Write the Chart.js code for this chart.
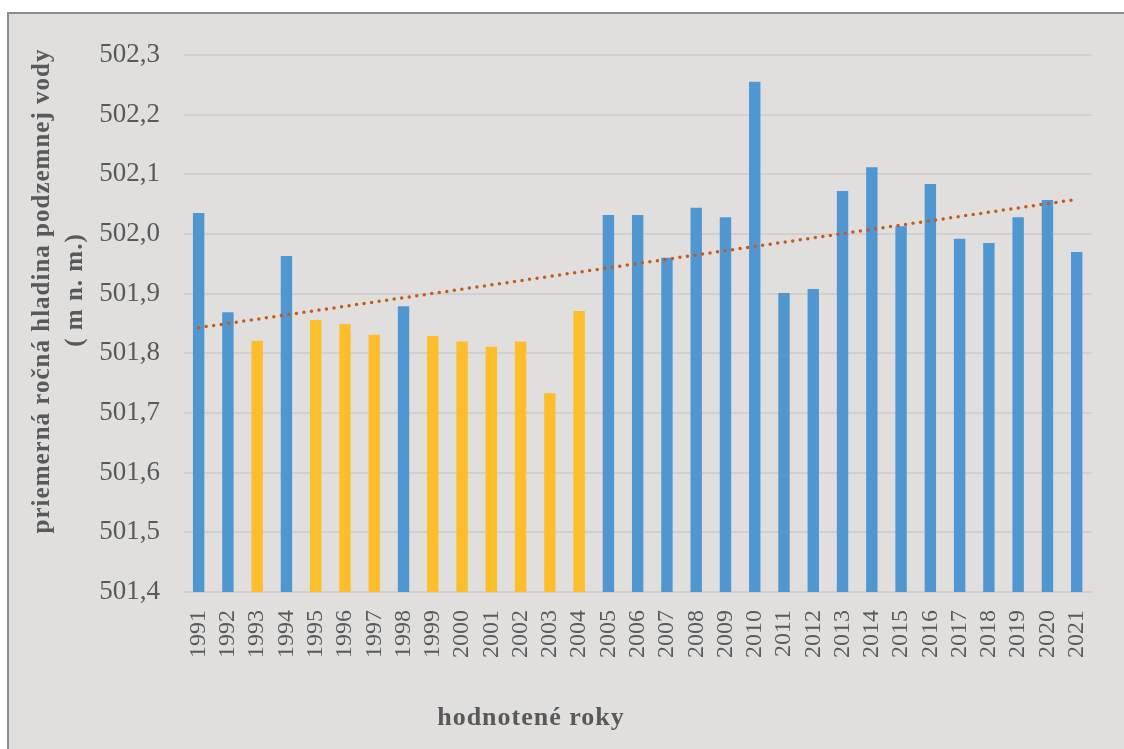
<!DOCTYPE html>
<html lang="sk">
<head>
<meta charset="utf-8">
<title>Priemerná ročná hladina podzemnej vody</title>
<script src="https://cdn.jsdelivr.net/npm/chart.js@4.4.1/dist/chart.umd.min.js"></script>
<style>
  html, body { margin: 0; padding: 0; background: #ffffff; overflow: hidden; }
  #ramec {
    position: absolute; left: 7px; top: 12px; width: 1130px; height: 760px;
    background: #e0dfde; border-top: 2px solid #8c8c8c; border-left: 2px solid #8c8c8c;
  }
  #graf { position: absolute; left: 0; top: 0; }
</style>
</head>
<body>
<div id="ramec"></div>
<canvas id="graf" width="1124" height="749"></canvas>
<script>
const roky = ['1991', '1992', '1993', '1994', '1995', '1996', '1997', '1998', '1999', '2000',
  '2001', '2002', '2003', '2004', '2005', '2006', '2007', '2008', '2009', '2010',
  '2011', '2012', '2013', '2014', '2015', '2016', '2017', '2018', '2019', '2020', '2021'];

const hladina = [502.035, 501.869, 501.821, 501.963, 501.856, 501.849, 501.831, 501.879, 501.829, 501.820,
  501.811, 501.820, 501.733, 501.871, 502.032, 502.032, 501.960, 502.044, 502.028, 502.255,
  501.901, 501.908, 502.072, 502.112, 502.013, 502.084, 501.992, 501.985, 502.028, 502.057,
  501.970];

// roky oznacene zltou farbou
const zlteRoky = ['1993', '1995', '1996', '1997', '1999', '2000', '2001', '2002', '2003', '2004'];

// linearny trend odcitany z obrazka (zaciatok a koniec)
const trendZaciatok = 501.843;
const trendKoniec = 502.058;

const popisY = ['priemerná ročná hladina podzemnej vody', '( m n. m.)'];
const popisX = 'hodnotené roky';

const MODRA = '#5097d2';
const ZLTA = '#fdbe2c';
const TEXT = '#595959';

const graf = document.getElementById('graf');

const farbyStlpcov = roky.map((rok) => (zlteRoky.includes(rok) ? ZLTA : MODRA));

const trendData = roky.map((rok, i) => {
  if (i === 0) return trendZaciatok;
  if (i === roky.length - 1) return trendKoniec;
  return null;
});

// PLUGIN KTORY KRESLI POPISY OSI
const popisyOsi = {
  id: 'popisyOsi',
  afterDraw(chart) {
    const ctx = chart.ctx;
    ctx.save();
    ctx.fillStyle = TEXT;
    ctx.textAlign = 'center';
    ctx.textBaseline = 'middle';
    ctx.letterSpacing = '1px';
    ctx.font = 'bold 25px "Liberation Serif"';

    ctx.save();
    ctx.translate(43, 291);
    ctx.rotate(-Math.PI / 2);
    ctx.fillText(popisY[0], 0, 0);
    ctx.restore();

    ctx.save();
    ctx.translate(76, 290);
    ctx.rotate(-Math.PI / 2);
    ctx.fillText(popisY[1], 0, 0);
    ctx.restore();

    ctx.font = 'bold 26px "Liberation Serif"';
    ctx.fillText(popisX, 531, 718);
    ctx.restore();
  }
};

new Chart(graf, {
  type: 'bar',
  data: {
    labels: roky,
    datasets: [
      {
        type: 'line',
        data: trendData,
        borderColor: '#c65a1c',
        borderWidth: 3.5,
        borderDash: [0, 7.6],
        borderCapStyle: 'round',
        pointRadius: 0,
        spanGaps: true,
        fill: false,
        order: 0
      },
      {
        data: hladina,
        backgroundColor: farbyStlpcov,
        borderWidth: 0,
        categoryPercentage: 1,
        barPercentage: 0.39,
        order: 1
      }
    ]
  },
  options: {
    responsive: false,
    animation: false,
    layout: { padding: { left: 0, top: 55, right: 31, bottom: 0 } },
    plugins: { legend: { display: false }, tooltip: { enabled: false } },
    scales: {
      x: {
        afterFit: (scale) => { scale.height = 157; },
        grid: { display: false, drawTicks: false },
        border: { display: false },
        ticks: {
          color: TEXT,
          font: { family: 'Liberation Serif', size: 24 },
          minRotation: 90,
          maxRotation: 90,
          padding: 18,
          autoSkip: false
        }
      },
      y: {
        min: 501.4,
        max: 502.3,
        afterFit: (scale) => { scale.width = 184; },
        grid: { color: '#d0d0d0', lineWidth: 2, drawTicks: false },
        border: { display: false },
        ticks: {
          stepSize: 0.1,
          color: TEXT,
          font: { family: 'Liberation Serif', size: 27 },
          padding: 24,
          callback: (v) => v.toFixed(1).replace('.', ',')
        }
      }
    }
  },
  plugins: [popisyOsi]
});
</script>
</body>
</html>
